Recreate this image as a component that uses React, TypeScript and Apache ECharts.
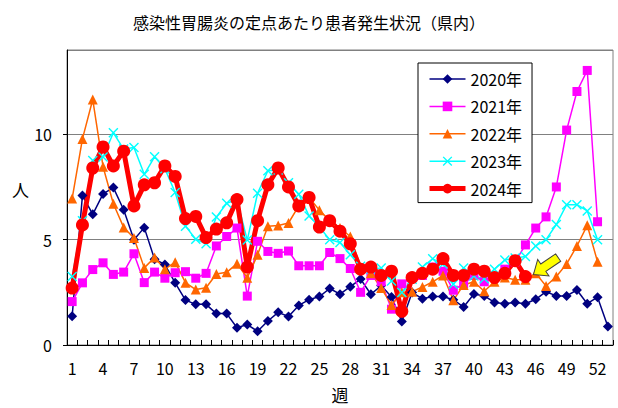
import React, { useEffect, useRef } from "react";
import * as echarts from "echarts";

const FONT = '"Noto Sans CJK JP", "Noto Sans", sans-serif';
const TITLE = "感染性胃腸炎の定点あたり患者発生状況（県内）";
const Y_NAME = "人";
const X_NAME = "週";

const weeks = [
  "1", "2", "3", "4", "5", "6", "7", "8", "9", "10",
  "11", "12", "13", "14", "15", "16", "17", "18", "19", "20",
  "21", "22", "23", "24", "25", "26", "27", "28", "29", "30",
  "31", "32", "33", "34", "35", "36", "37", "38", "39", "40",
  "41", "42", "43", "44", "45", "46", "47", "48", "49", "50",
  "51", "52", "53",
];

const y2020 = [
  1.37, 7.1, 6.2, 7.17, 7.47, 6.42, 5.0, 5.57, 4.07, 3.82,
  2.95, 2.13, 1.93, 1.93, 1.49, 1.49, 0.82, 0.97, 0.65, 1.14,
  1.55, 1.35, 1.88, 2.15, 2.3, 2.68, 2.41, 2.77, 3.13, 2.41,
  2.82, 2.28, 1.12, 2.49, 2.2, 2.3, 2.3, 2.15, 1.8, 2.42,
  2.33, 2.02, 1.96, 2.02, 1.96, 2.17, 2.53, 2.33, 2.33, 2.61,
  1.96, 2.27, 0.88,
];

const y2021 = [
  2.06, 2.95, 3.58, 3.9, 3.35, 3.46, 4.33, 2.96, 3.46, 3.17,
  3.43, 3.48, 3.17, 3.4, 4.7, 5.15, 5.55, 2.32, 4.92, 4.44,
  4.35, 4.46, 3.76, 3.76, 3.76, 4.39, 4.1, 3.63, 2.5, 3.3,
  3.0, 1.7, 2.9, 3.2, 3.3, 3.7, 3.5, 2.6, 2.9, 3.3,
  3.0, 3.2, 3.6, 3.95, 4.75, 5.55, 6.08, 7.5, 10.2, 12.03,
  13.03, 5.85,
];

const y2022 = [
  6.95, 9.78, 11.65, 8.46, 6.7, 5.58, 5.08, 3.66, 4.15, 3.6,
  3.93, 2.96, 2.63, 2.72, 3.37, 3.45, 3.86, 3.19, 4.28, 5.64,
  5.67, 5.79, 6.6, 7.0, 6.4, 5.9, 5.55, 5.15, 3.7, 3.4,
  2.7, 1.9, 2.5, 2.53, 2.75, 3.0, 3.3, 2.12, 2.85, 3.0,
  2.55, 3.0, 3.2, 3.1, 3.1, 3.4, 2.8, 3.25, 3.85, 4.7,
  5.68, 3.95,
];

const y2023 = [
  3.25, 5.9, 8.76, 8.92, 10.07, 9.3, 9.37, 8.1, 8.93, 8.37,
  7.24, 5.64, 5.02, 4.8, 6.07, 6.73, 6.9, 4.98, 7.2, 8.27,
  8.3, 7.7, 7.16, 6.12, 5.6, 5.0, 4.86, 4.28, 3.74, 3.6,
  3.66, 3.04, 2.49, 3.12, 3.7, 4.09, 3.85, 2.88, 3.66, 3.27,
  3.15, 3.6, 4.03, 4.13, 4.2, 4.7, 5.0, 5.72, 6.66, 6.66,
  6.36, 5.0,
];

const y2024 = [
  2.7, 5.7, 8.4, 9.4, 8.5, 9.2, 6.6, 7.6, 7.7, 8.5,
  8.0, 6.0, 6.1, 5.1, 5.5, 5.8, 6.9, 3.7, 5.9, 7.6,
  8.4, 7.5, 6.6, 7.0, 5.6, 5.9, 5.4, 4.8, 3.6, 3.7,
  3.3, 3.5, 1.6, 3.2, 3.4, 3.6, 4.1, 3.3, 3.3, 3.6,
  3.5, 3.2, 3.4, 4.0, 3.25,
];

const seriesNames = ["2020年", "2021年", "2022年", "2023年", "2024年"];

const CROSS =
  "path://M0,1L1,0L5,4L9,0L10,1L6,5L10,9L9,10L5,6L1,10L0,9L4,5Z";

export default function App() {
  const ref = useRef<HTMLDivElement>(null);

  useEffect(() => {
    document.body.style.margin = "0";
    const chart = echarts.init(ref.current!, null, { renderer: "svg" });

    const mk = (
      name: string,
      data: number[],
      color: string,
      symbol: string,
      size: number,
      width: number
    ) => ({
      name,
      type: "line",
      data,
      symbol,
      symbolSize: size,
      showSymbol: true,
      showAllSymbol: true,
      lineStyle: { color, width },
      itemStyle: { color, borderWidth: 0 },
      emphasis: { disabled: true },
    });

    chart.setOption({
      animation: false,
      textStyle: { fontFamily: FONT },
      title: {
        text: TITLE,
        left: "center",
        top: 9,
        textStyle: {
          fontSize: 16,
          fontWeight: "normal",
          color: "#000",
          fontFamily: FONT,
        },
      },
      grid: {
        left: 67,
        right: 5,
        top: 50,
        bottom: 58,
        show: true,
        borderColor: "#808080",
        borderWidth: 1,
        containLabel: false,
      },
      legend: {
        orient: "vertical",
        left: 418,
        top: 63,
        padding: [8, 10, 6, 9],
        itemGap: 11.4,
        itemWidth: 36,
        itemHeight: 12,
        backgroundColor: "#fff",
        borderColor: "#000",
        borderWidth: 1,
        borderRadius: 0,
        lineStyle: { width: "inherit" },
        textStyle: { fontSize: 16, color: "#000", fontFamily: FONT },
        data: seriesNames,
      },
      xAxis: {
        type: "category",
        data: weeks,
        boundaryGap: true,
        axisLine: { lineStyle: { color: "#000", width: 1 } },
        axisTick: {
          show: true,
          inside: true,
          length: 5,
          interval: 0,
          lineStyle: { color: "#000" },
        },
        axisLabel: {
          interval: 2,
          fontSize: 16,
          color: "#000",
          margin: 15,
          fontFamily: FONT,
        },
        splitLine: { show: false },
        name: X_NAME,
        nameLocation: "middle",
        nameGap: 41,
        nameTextStyle: { fontSize: 17, color: "#000", fontFamily: FONT },
      },
      yAxis: {
        type: "value",
        min: 0,
        max: 14,
        interval: 5,
        axisLine: { show: true, lineStyle: { color: "#000", width: 1 } },
        axisTick: { show: true, length: 4, lineStyle: { color: "#000" } },
        splitLine: { show: true, lineStyle: { color: "#808080", width: 1 } },
        axisLabel: {
          fontSize: 16,
          color: "#000",
          margin: 15,
          showMaxLabel: false,
          fontFamily: FONT,
        },
      },
      series: [
        mk(seriesNames[0], y2020, "#000080", "diamond", 10, 1.5),
        mk(seriesNames[1], y2021, "#FF00FF", "rect", 9, 1.5),
        mk(seriesNames[2], y2022, "#FF6600", "triangle", 10, 1.5),
        mk(seriesNames[3], y2023, "#00FFFF", CROSS, 10, 1.5),
        mk(seriesNames[4], y2024, "#FF0000", "circle", 13, 5),
      ],
    });

    // axis name "人" and the yellow arrow pointing at the latest 2024 value
    const lastIdx = y2024.length - 1;
    const pt = chart.convertToPixel({ xAxisIndex: 0, yAxisIndex: 0 }, [
      lastIdx,
      y2024[lastIdx],
    ]) as number[];
    const graphics: any[] = [
      {
        type: "text",
        left: 12,
        top: 181,
        style: {
          text: Y_NAME,
          fontSize: 17,
          fill: "#000",
          fontFamily: FONT,
        },
      },
    ];
    if (pt && isFinite(pt[0])) {
      graphics.push({
        type: "polygon",
        x: pt[0] + 8,
        y: pt[1] - 2,
        rotation: 0.6,
        z: 100,
        shape: {
          points: [
            [0, 0],
            [12, -10],
            [12, -4.5],
            [30, -4.5],
            [30, 4.5],
            [12, 4.5],
            [12, 10],
          ],
        },
        style: { fill: "#FFFF00", stroke: "#404040", lineWidth: 1 },
      });
    }
    chart.setOption({ graphic: graphics });

    return () => chart.dispose();
  }, []);

  return <div ref={ref} style={{ width: 618, height: 408 }} />;
}
